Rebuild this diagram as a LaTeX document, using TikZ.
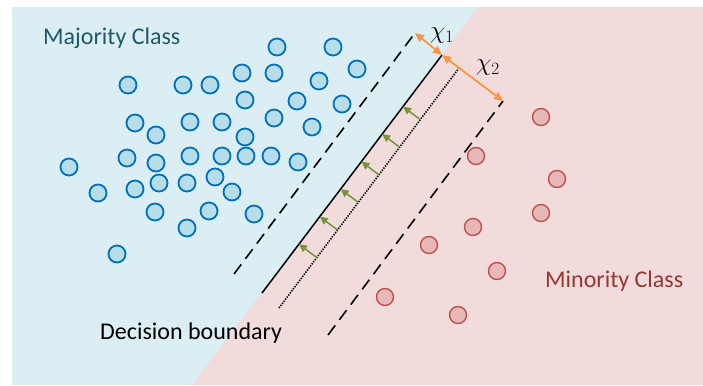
\documentclass[tikz,border=0pt]{standalone}
\usepackage{fontspec}
\setmainfont{Carlito}
\usetikzlibrary{arrows.meta, calc}

\definecolor{MajBack}{HTML}{DAEEF3}
\definecolor{MinBack}{HTML}{F2DCDB}
\definecolor{MajFill}{HTML}{B7DEE8}
\definecolor{MajEdge}{HTML}{0070C0}
\definecolor{MinFill}{HTML}{E6B9B8}
\definecolor{MinEdge}{HTML}{C0504D}
\definecolor{MajText}{HTML}{215967}
\definecolor{MinText}{HTML}{953735}
\definecolor{GapOrange}{HTML}{F79646}
\definecolor{PushGreen}{HTML}{77933C}

\begin{document}
\begin{tikzpicture}[
    x=1pt, y=-1pt,
    maj/.style={circle, draw=MajEdge, fill=MajFill, line width=1.8pt,
                minimum size=17pt, inner sep=0pt},
    min/.style={circle, draw=MinEdge, fill=MinFill, line width=1.4pt,
                minimum size=17pt, inner sep=0pt},
    lbl/.style={inner sep=0pt, anchor=base west,
                font=\fontsize{24}{28}\selectfont},
    margin/.style={line width=1.6pt, dash pattern=on 12pt off 7pt},
    gap/.style={{Triangle[length=9pt, width=8pt]}-{Triangle[length=9pt, width=8pt]},
                GapOrange, line width=1.8pt},
    push/.style={-{Triangle[length=8pt, width=7.5pt]}, PushGreen, line width=1.5pt}
  ]
  \useasboundingbox (0,0) rectangle (703,385);

  % two half planes
  \fill[MajBack] (12,7) rectangle (703,385);
  \fill[MinBack] (478,7) -- (703,7) -- (703,385) -- (192,385) -- cycle;

  % lines
  \coordinate (solA) at (262,293);
  \coordinate (solB) at (442,55);
  \coordinate (upA) at (234,274);
  \coordinate (upB) at (415,33);
  \coordinate (dotA) at (279,308);
  \coordinate (dotB) at (459,68);
  \coordinate (lowA) at (328,335);
  \coordinate (lowB) at (503,101);

  \draw[margin] (upA) -- (upB);
  \draw[margin] (lowA) -- (lowB);
  \draw[line width=1.5pt] (solA) -- (solB);
  \draw[line width=1.6pt, dash pattern=on 1.3pt off 1.3pt] (dotA) -- (dotB);

  % shift arrows
  \foreach \t [count=\i] in {0.21,0.325,0.44,0.555,0.67,0.785} {
    \coordinate (tail\i) at ($(dotA)!\t!(dotB)$);
    \coordinate (head\i) at ($(solA)!(tail\i)!(solB)$);
    \draw[push] (tail\i) -- (head\i);
  }

  % margins
  \draw[gap] (upB) -- (solB);
  \draw[gap] (solB) -- (lowB);
  \node[lbl] (chi1) at (430,39) {$\chi_1$};
  \node[lbl] (chi2) at (476,71) {$\chi_2$};

  % majority samples
  \foreach \p [count=\i] in {(277,47),(333,47),(357,69),(128,85),(183,85),
      (210,85),(242,73),(274,73),(319,81),(245,100),(297,101),(342,104),
      (135,123),(156,135),(190,122),(222,122),(274,118),(312,127),(245,137),
      (69,167),(127,158),(156,163),(190,156),(222,156),(246,156),(271,156),
      (298,162),(98,193),(135,189),(159,183),(187,183),(215,177),(232,192),
      (155,212),(209,211),(254,214),(187,228),(117,254)}
    \node[maj] (b\i) at \p {};

  % minority samples
  \foreach \p [count=\i] in {(541,117),(476,156),(557,179),(541,213),
      (473,227),(429,245),(497,271),(385,297),(458,315)}
    \node[min] (r\i) at \p {};

  \node[lbl, text=MajText] (majlbl) at (43,45) {Majority Class};
  \node[lbl, text=MinText] (minlbl) at (545,287) {Minority Class};
  \node[lbl] (declbl) at (100,339) {Decision boundary};
\end{tikzpicture}
\end{document}
